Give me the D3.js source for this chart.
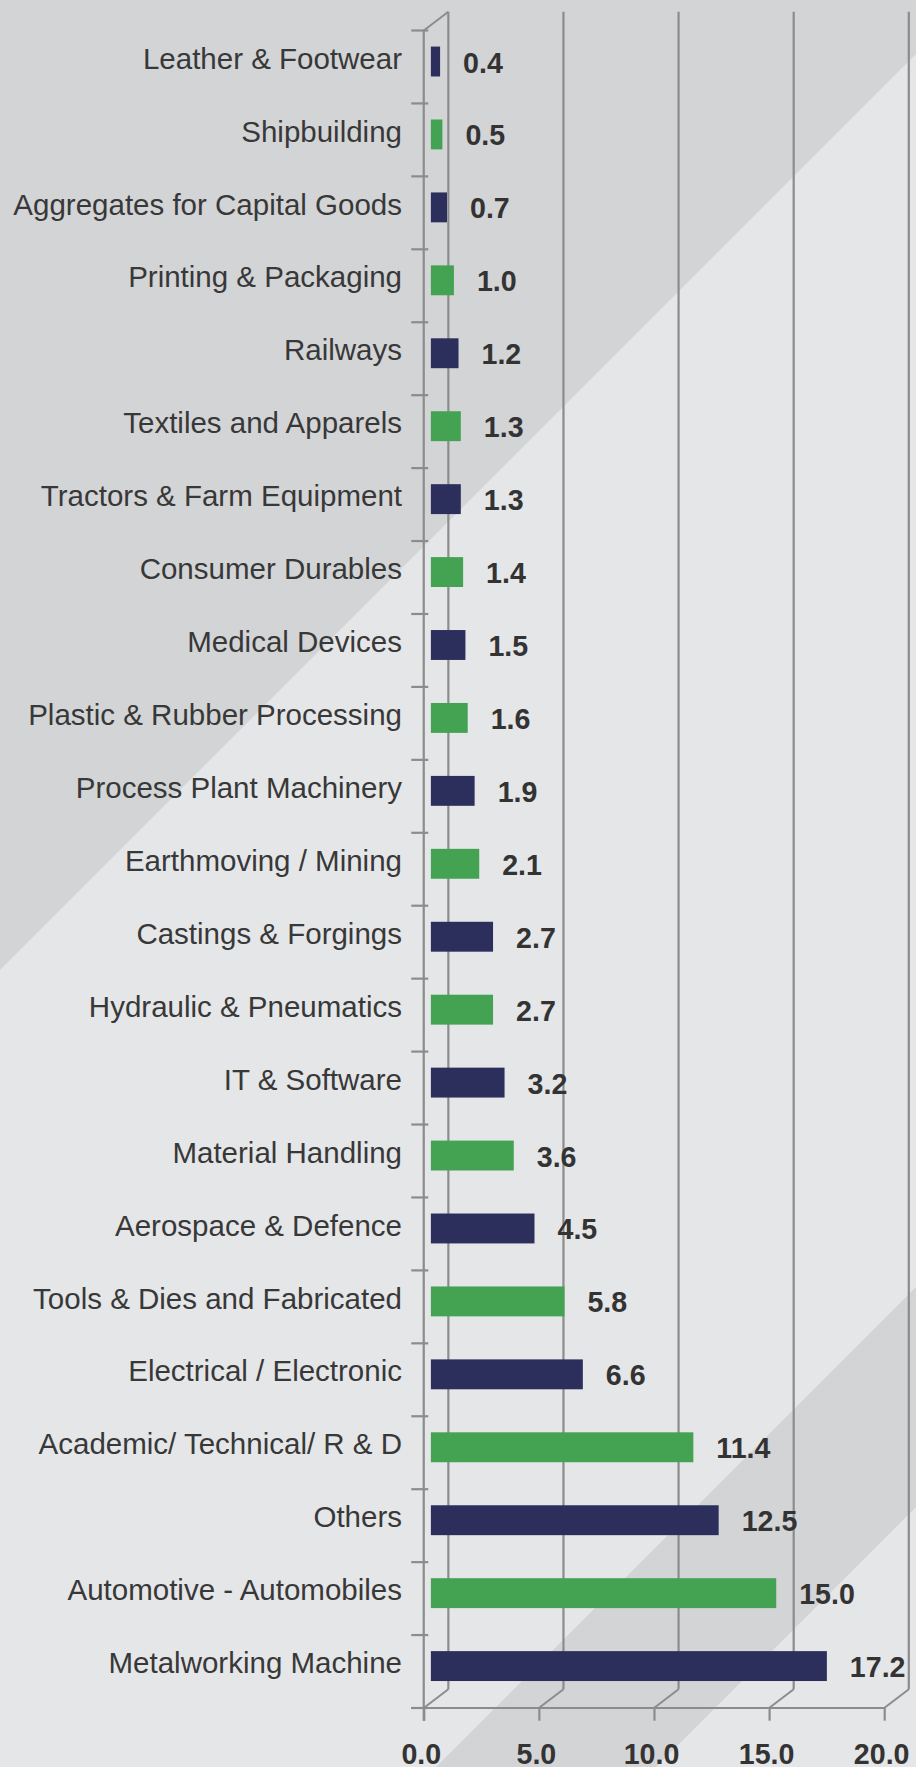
<!DOCTYPE html>
<html>
<head>
<meta charset="utf-8">
<script src="https://cdn.jsdelivr.net/npm/d3@7"></script>
<style>
    body { margin: 0; background: #e5e6e8; }
    svg { display: block; font-family: "Liberation Sans", Arial, Helvetica, sans-serif; }
</style>
</head>
<body>
<div class="paint"></div>
<script>
// sectors, top to bottom, as they appear in the chart
var categories = [
    "Leather & Footwear", "Shipbuilding", "Aggregates for Capital Goods",
    "Printing & Packaging", "Railways", "Textiles and Apparels",
    "Tractors & Farm Equipment", "Consumer Durables", "Medical Devices",
    "Plastic & Rubber Processing", "Process Plant Machinery", "Earthmoving / Mining",
    "Castings & Forgings", "Hydraulic & Pneumatics", "IT & Software",
    "Material Handling", "Aerospace & Defence", "Tools & Dies and Fabricated",
    "Electrical / Electronic", "Academic/ Technical/ R & D", "Others",
    "Automotive - Automobiles", "Metalworking Machine"
];
var values = [0.4, 0.5, 0.7, 1.0, 1.2, 1.3, 1.3, 1.4, 1.5, 1.6, 1.9, 2.1,
    2.7, 2.7, 3.2, 3.6, 4.5, 5.8, 6.6, 11.4, 12.5, 15.0, 17.2];
var xTicks = [0, 5, 10, 15, 20];
var barColors = ["#2c2f5b", "#43a352"];

var main;
(function (main) {
    var W = 916, H = 1767;
    var depth = { dx: 24.6, dy: -18.8 };
    var barDepth = 0.29;

    function ini() {
        var rows = categories.map(function (c, i) { return { name: c, value: values[i], i: i }; });

        var svg = d3.select(".paint").append("svg")
            .attr("width", W).attr("height", H);

        // background with diagonal shading
        svg.append("rect").attr("width", W).attr("height", H).attr("fill", "#e5e6e8");
        svg.append("polygon").attr("points", "0,0 916,0 916,54 0,970").attr("fill", "#d3d4d6");
        svg.append("polygon").attr("points", "916,1287 916,1507 656,1767 436,1767").attr("fill", "#d3d4d6");

        var x = d3.scaleLinear().domain([0, 20]).range([423.75, 884.2]);
        var y = d3.scaleBand().domain(categories).range([30.5, 1708]);
        var y0 = y.range()[1];
        var yTop = y.range()[0];
        var lineColor = "#8c8c8c";

        // back wall gridlines
        var grid = svg.append("g");
        grid.selectAll(".back").data(xTicks).enter().append("line")
            .attr("x1", function (d) { return x(d) + depth.dx; })
            .attr("x2", function (d) { return x(d) + depth.dx; })
            .attr("y1", yTop + depth.dy)
            .attr("y2", y0 + depth.dy)
            .attr("stroke", lineColor).attr("stroke-width", 2.2);
        // floor diagonals
        grid.selectAll(".floor").data(xTicks).enter().append("line")
            .attr("x1", function (d) { return x(d); })
            .attr("x2", function (d) { return x(d) + depth.dx; })
            .attr("y1", y0)
            .attr("y2", y0 + depth.dy)
            .attr("stroke", lineColor).attr("stroke-width", 2);
        // top left diagonal
        grid.append("line")
            .attr("x1", x(0)).attr("y1", yTop)
            .attr("x2", x(0) + depth.dx).attr("y2", yTop + depth.dy)
            .attr("stroke", lineColor).attr("stroke-width", 2);

        // x axis
        var xAxis = d3.axisBottom(x).tickValues(xTicks).tickSize(12.7).tickSizeOuter(0)
            .tickFormat(d3.format(".1f"));
        var gx = svg.append("g").attr("transform", "translate(0," + y0 + ")").call(xAxis);
        gx.select(".domain").remove();
        gx.selectAll(".tick line").attr("stroke", lineColor).attr("stroke-width", 2.2);
        gx.selectAll(".tick text")
            .attr("y", 56).attr("dy", null).attr("x", -3)
            .attr("fill", "#333").attr("font-size", 28.6).attr("font-weight", "bold")
            .style("font-family", "'Liberation Sans', Arial, sans-serif");
        svg.append("line")
            .attr("x1", x(0) - 12.5).attr("x2", x(20)).attr("y1", y0).attr("y2", y0)
            .attr("stroke", lineColor).attr("stroke-width", 2.2);

        // y axis line and band ticks
        svg.append("line")
            .attr("x1", x(0)).attr("x2", x(0)).attr("y1", yTop).attr("y2", y0 + 12.7)
            .attr("stroke", lineColor).attr("stroke-width", 2.2);
        var bounds = d3.range(categories.length + 1);
        svg.selectAll(".ytick").data(bounds).enter().append("line")
            .attr("x1", x(0) - 12.5).attr("x2", x(0) + 4.5)
            .attr("y1", function (d) { return yTop + d * y.step(); })
            .attr("y2", function (d) { return yTop + d * y.step(); })
            .attr("stroke", lineColor).attr("stroke-width", 2.2);

        // bars
        var bh = y.bandwidth() * 0.41;
        var offX = depth.dx * barDepth, offY = depth.dy * barDepth;
        function cy(d) { return y(d.name) + y.bandwidth() / 2 + offY; }

        var joinBars = svg.append("g").selectAll(".bar").data(rows, function (d) { return d.name; });
        joinBars.enter().append("rect")
            .classed("bar", true)
            .attr("x", x(0) + offX)
            .attr("y", function (d) { return cy(d) - bh / 2; })
            .attr("width", function (d) { return x(d.value) - x(0); })
            .attr("height", bh)
            .attr("fill", function (d) { return barColors[d.i % 2]; });

        // value labels
        svg.append("g").selectAll(".val").data(rows).enter().append("text")
            .attr("x", function (d) { return x(d.value) + offX + 23; })
            .attr("y", function (d) { return cy(d) + 0.7; })
            .attr("dy", "0.36em")
            .attr("fill", "#333").attr("font-size", 28.6).attr("font-weight", "bold")
            .text(function (d) { return d3.format(".1f")(d.value); });

        // category labels
        svg.append("g").selectAll(".cat").data(rows).enter().append("text")
            .attr("x", 402)
            .attr("y", function (d) { return cy(d) - 3.5; })
            .attr("dy", "0.36em")
            .attr("text-anchor", "end")
            .attr("fill", "#383838").attr("font-size", 29.5)
            .text(function (d) { return d.name; });
    }
    main.ini = ini;
})(main || (main = {}));
main.ini();
</script>
</body>
</html>
